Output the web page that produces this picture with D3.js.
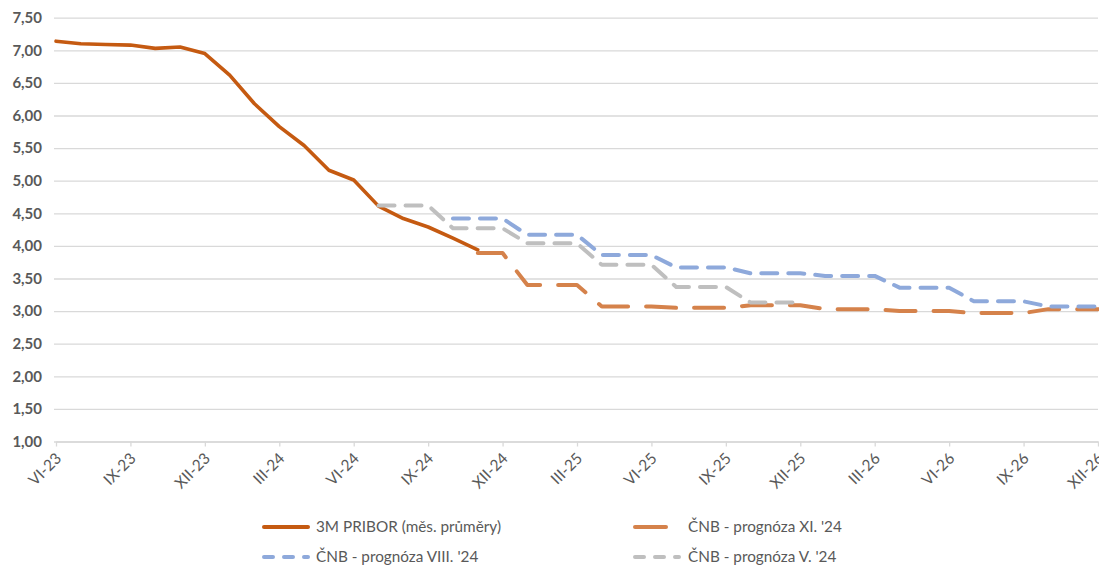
<!DOCTYPE html>
<html>
<head>
<meta charset="utf-8">
<script src="https://cdn.jsdelivr.net/npm/d3@7"></script>
<style>
  html, body { margin: 0; padding: 0; background: #fff; }
  svg { display: block; font-family: Lato, "Open Sans", sans-serif; }
</style>
</head>
<body>
<svg id="chart" width="1099" height="565"></svg>
<script>
// months VI-23 .. XII-26
const months = [
  'VI-23', 'VII-23', 'VIII-23', 'IX-23', 'X-23', 'XI-23', 'XII-23',
  'I-24', 'II-24', 'III-24', 'IV-24', 'V-24', 'VI-24', 'VII-24', 'VIII-24', 'IX-24', 'X-24', 'XI-24', 'XII-24',
  'I-25', 'II-25', 'III-25', 'IV-25', 'V-25', 'VI-25', 'VII-25', 'VIII-25', 'IX-25', 'X-25', 'XI-25', 'XII-25',
  'I-26', 'II-26', 'III-26', 'IV-26', 'V-26', 'VI-26', 'VII-26', 'VIII-26', 'IX-26', 'X-26', 'XI-26', 'XII-26'
];
const tickLabels = ['VI-23', 'IX-23', 'XII-23', 'III-24', 'VI-24', 'IX-24', 'XII-24',
  'III-25', 'VI-25', 'IX-25', 'XII-25', 'III-26', 'VI-26', 'IX-26', 'XII-26'];
const yTicks = [1, 1.5, 2, 2.5, 3, 3.5, 4, 4.5, 5, 5.5, 6, 6.5, 7, 7.5];

// 3M PRIBOR, monthly averages VI-23 .. XI-24
const pribor = [7.14, 7.10, 7.09, 7.08, 7.03, 7.05, 6.95, 6.62, 6.18, 5.83, 5.54, 5.16,
  5.01, 4.61, 4.42, 4.29, 4.12, 3.94];
// CNB forecast XI.'24, from XI-24
const fcNov = [3.89, 3.89, 3.40, 3.40, 3.40, 3.07, 3.07, 3.07, 3.05, 3.05, 3.05,
  3.09, 3.09, 3.09, 3.03, 3.03, 3.03, 3.00, 3.00, 3.00, 2.97, 2.97, 2.97, 3.03, 3.03, 3.03];
// CNB forecast VIII.'24, from X-24
const fcAug = [4.42, 4.42, 4.42, 4.17, 4.17, 4.17, 3.86, 3.86, 3.86, 3.67, 3.67, 3.67,
  3.58, 3.58, 3.58, 3.54, 3.54, 3.54, 3.36, 3.36, 3.36, 3.15, 3.15, 3.15, 3.07, 3.07, 3.07];
// CNB forecast V.'24, from VII-24
const fcMay = [4.62, 4.62, 4.62, 4.27, 4.27, 4.27, 4.04, 4.04, 4.04, 3.71, 3.71, 3.71,
  3.37, 3.37, 3.37, 3.13, 3.13, 3.13];

const series = [
  { name: '3M PRIBOR (měs. průměry)', start: 'VI-23', values: pribor, color: '#C55A11', width: 3.6, dash: null, legendDash: null },
  { name: 'ČNB - prognóza XI. \'24', start: 'XI-24', values: fcNov, color: '#D5824B', width: 4, dash: '30,18', legendDash: null },
  { name: 'ČNB - prognóza VIII. \'24', start: 'X-24', values: fcAug, color: '#8EA9DB', width: 4, dash: '16,11', legendDash: '9,11' },
  { name: 'ČNB - prognóza V. \'24', start: 'VII-24', values: fcMay, color: '#BFBFBF', width: 4, dash: '16,11', legendDash: '9,11' }
];

const svg = d3.select('#chart');
const X0 = 56, X1 = 1098, Y0 = 441.5, Y1 = 17.7;

const x = d3.scalePoint().domain(months).range([X0, X1]).padding(0);
const y = d3.scaleLinear().domain([1, 7.5]).range([Y0, Y1]);

const locale = d3.formatLocale({ decimal: ',', thousands: ' ', grouping: [3], currency: ['', ' Kč'] });
const fmt = locale.format('.2f');

// gridlines + y labels
const yAxis = svg.append('g')
  .attr('transform', `translate(${X0 - 2},0)`)
  .call(d3.axisLeft(y).tickValues(yTicks).tickFormat(fmt).tickSize(-(X1 - X0 + 2)).tickPadding(12));
yAxis.select('.domain').remove();
yAxis.selectAll('line').attr('stroke', '#D9D9D9').attr('stroke-width', 1.3);
yAxis.selectAll('text')
  .attr('fill', '#595959')
  .attr('font-size', '15px')
  .attr('font-weight', 'bold')
  .attr('font-family', 'Lato, sans-serif');

// x axis
const xAxis = svg.append('g')
  .attr('transform', `translate(0,${Y0})`)
  .call(d3.axisBottom(x).tickValues(tickLabels).tickSize(5).tickSizeOuter(0));
xAxis.select('.domain').attr('stroke', '#D9D9D9').attr('stroke-width', 1.3);
xAxis.selectAll('line').attr('stroke', '#D9D9D9').attr('stroke-width', 1.3);
xAxis.selectAll('text')
  .attr('fill', '#595959')
  .attr('font-size', '15.5px')
  .attr('font-family', 'Lato, sans-serif')
  .attr('text-anchor', 'end')
  .attr('y', 0)
  .attr('dy', '0.35em')
  .attr('transform', 'translate(2,14) rotate(-45)');

// lines
const line = d3.line()
  .defined(d => d.v != null)
  .x(d => x(d.m))
  .y(d => y(d.v));

series.forEach(s => {
  const i0 = months.indexOf(s.start);
  const pts = s.values.map((v, i) => ({ m: months[i0 + i], v }));
  svg.append('path')
    .datum(pts)
    .attr('fill', 'none')
    .attr('stroke', s.color)
    .attr('stroke-width', s.width)
    .attr('stroke-linejoin', 'round')
    .attr('stroke-linecap', 'round')
    .attr('stroke-dasharray', s.dash)
    .attr('d', line);
});

// legend
const legendPos = [
  { x: 262, len: 48, tx: 316, y: 527 },
  { x: 633, len: 35, tx: 688, y: 527 },
  { x: 262, len: 48, tx: 316, y: 557 },
  { x: 633, len: 48, tx: 688, y: 557 }
];
const legend = svg.append('g');
series.forEach((s, i) => {
  const p = legendPos[i];
  legend.append('line')
    .attr('x1', p.x + 2).attr('x2', p.x + p.len - 2)
    .attr('y1', p.y).attr('y2', p.y)
    .attr('stroke', s.color)
    .attr('stroke-width', 4)
    .attr('stroke-linecap', 'round')
    .attr('stroke-dasharray', s.legendDash);
  legend.append('text')
    .attr('x', p.tx).attr('y', p.y)
    .attr('dy', '0.35em')
    .attr('fill', '#595959')
    .attr('font-size', '15.3px')
    .text(s.name);
});
</script>
</body>
</html>
